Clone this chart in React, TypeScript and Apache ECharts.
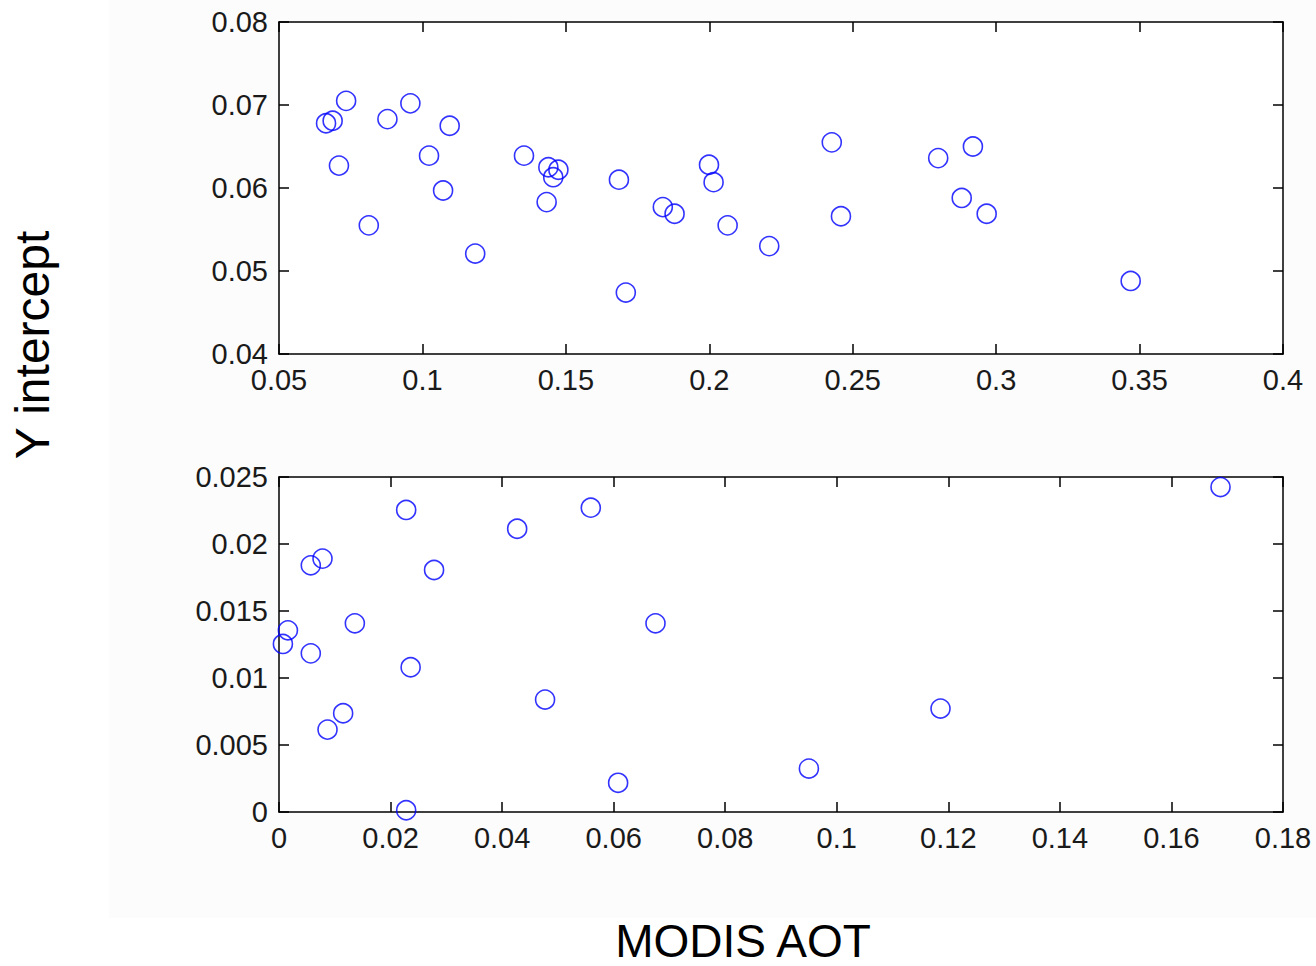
import React, { useEffect, useRef } from "react";
import * as echarts from "echarts";

// ---- Data ----
const topAot = [
  0.0664, 0.0687, 0.0734, 0.0709, 0.0813, 0.0878, 0.0958, 0.1023, 0.1072, 0.1095,
  0.1184, 0.1354, 0.1433, 0.1439, 0.1456, 0.1474, 0.1685, 0.1709, 0.1838, 0.1879,
  0.1999, 0.2015, 0.2064, 0.2209, 0.2427, 0.2459, 0.2798, 0.2880, 0.2919, 0.2967,
  0.3469,
];
const topIntercept = [
  0.0678, 0.0681, 0.0705, 0.0627, 0.0555, 0.0683, 0.0702, 0.0639, 0.0597, 0.0675,
  0.0521, 0.0639, 0.0583, 0.0625, 0.0613, 0.0622, 0.0610, 0.0474, 0.0577, 0.0569,
  0.0628, 0.0607, 0.0555, 0.0530, 0.0655, 0.0566, 0.0636, 0.0588, 0.0650, 0.0569,
  0.0488,
];

const bottomAot = [
  0.0228, 0.0559, 0.0427, 0.0078, 0.0057, 0.0278, 0.0136, 0.0675, 0.0016, 0.0007,
  0.0057, 0.0236, 0.0477, 0.0115, 0.0087, 0.0608, 0.0228, 0.1186, 0.0950, 0.1688,
];
const bottomIntercept = [
  0.02254, 0.02271, 0.02114, 0.01891, 0.01841, 0.01806, 0.01408, 0.01408, 0.01356, 0.01254,
  0.01184, 0.0108, 0.00839, 0.00737, 0.00615, 0.00218, 0.00013, 0.00772, 0.00324, 0.02425,
];

// tick values
const topXTicks = [0.05, 0.1, 0.15, 0.2, 0.25, 0.3, 0.35, 0.4];
const topYTicks = [0.04, 0.05, 0.06, 0.07, 0.08];
const bottomXTicks = [0, 0.02, 0.04, 0.06, 0.08, 0.1, 0.12, 0.14, 0.16, 0.18];
const bottomYTicks = [0, 0.005, 0.01, 0.015, 0.02, 0.025];

const xLabel = "MODIS AOT";
const yLabel = "Y intercept";

const FONT = "'Liberation Sans', Arial, Helvetica, sans-serif";
const fmt = (v: number) => String(Number(v.toFixed(4)));

function axisRange(ticks: number[]) {
  return {
    min: ticks[0],
    max: ticks[ticks.length - 1],
    interval: Number((ticks[1] - ticks[0]).toFixed(6)),
  };
}

function makeAxis(
  ticks: number[],
  gridIndex: number,
  position: string,
  showLabel: boolean
) {
  return {
    type: "value",
    gridIndex,
    position,
    ...axisRange(ticks),
    axisLine: { show: true, onZero: false, lineStyle: { color: "#000", width: 1.5 } },
    axisTick: { show: true, inside: true, length: 10, lineStyle: { color: "#000", width: 1.5 } },
    splitLine: { show: false },
    axisLabel: {
      show: showLabel,
      margin: 11,
      fontSize: 29,
      fontFamily: FONT,
      color: "#1a1a1a",
      formatter: (v: number) => fmt(v),
    },
  };
}

export default function App() {
  const ref = useRef<HTMLDivElement>(null);

  useEffect(() => {
    if (!ref.current) return;
    const chart = echarts.init(ref.current, undefined, { renderer: "svg" });

    const topData = topAot.map((x, i) => [x, topIntercept[i]]);
    const bottomData = bottomAot.map((x, i) => [x, bottomIntercept[i]]);

    const marker = {
      type: "scatter",
      symbol: "circle",
      symbolSize: 19,
      itemStyle: { color: "transparent", borderColor: "#0000ff", borderWidth: 1.6 },
      emphasis: { disabled: true },
      clip: false,
    };

    chart.setOption({
      animation: false,
      backgroundColor: "#ffffff",
      graphic: [
        {
          type: "rect",
          z: -10,
          silent: true,
          shape: { x: 109, y: 0, width: 1207, height: 918 },
          style: { fill: "#fcfcfc" },
        },
        {
          type: "text",
          x: 743,
          y: 941,
          style: {
            text: xLabel,
            fontSize: 46,
            lineHeight: 40,
            fontFamily: FONT,
            fill: "#000",
            textAlign: "center",
            textVerticalAlign: "middle",
          },
        },
        {
          type: "text",
          x: 32,
          y: 345,
          rotation: Math.PI / 2,
          style: {
            text: yLabel,
            fontSize: 48,
            fontFamily: FONT,
            fill: "#000",
            textAlign: "center",
            textVerticalAlign: "middle",
          },
        },
      ],
      grid: [
        { left: 279, top: 22, width: 1004, height: 332, show: true, backgroundColor: "#ffffff", borderWidth: 0 },
        { left: 279, top: 477, width: 1004, height: 335, show: true, backgroundColor: "#ffffff", borderWidth: 0 },
      ],
      xAxis: [
        makeAxis(topXTicks, 0, "bottom", true),
        makeAxis(topXTicks, 0, "top", false),
        makeAxis(bottomXTicks, 1, "bottom", true),
        makeAxis(bottomXTicks, 1, "top", false),
      ],
      yAxis: [
        makeAxis(topYTicks, 0, "left", true),
        makeAxis(topYTicks, 0, "right", false),
        makeAxis(bottomYTicks, 1, "left", true),
        makeAxis(bottomYTicks, 1, "right", false),
      ],
      series: [
        { ...marker, name: "top", xAxisIndex: 0, yAxisIndex: 0, data: topData },
        { ...marker, name: "bottom", xAxisIndex: 2, yAxisIndex: 2, data: bottomData },
      ],
    });

    return () => chart.dispose();
  }, []);

  return (
    <div
      ref={ref}
      style={{ position: "fixed", left: 0, top: 0, width: 1316, height: 966, background: "#fff" }}
    />
  );
}
